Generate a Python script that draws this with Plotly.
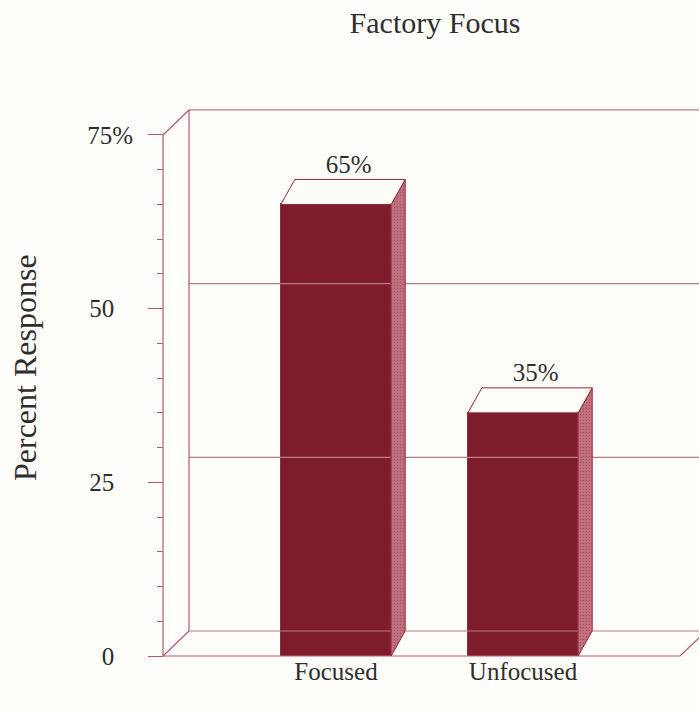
import plotly.graph_objects as go

# ---------------- data ----------------
categories = ["Focused", "Unfocused"]
values = [65, 35]
value_labels = ["65%", "35%"]
y_tick_vals = [0, 25, 50, 75]
y_tick_text = ["0", "25", "50", "75%"]
title_text = "Factory Focus"
y_title = "Percent Response"

# ---------------- style / geometry ----------------
FONT = "Liberation Serif, Times New Roman, serif"
TEXT_COLOR = "#2e2e2e"
BG = "#fffefa"
BAR_FRONT = "#7d1d2c"
BAR_SIDE = "#c07080"
BAR_TOP = "#fffdf8"
EDGE = "#8e2a3c"
FRAME = "#b05a6c"
GRID = "#b87a86"

BAR_W = 0.59
BAR_DX, BAR_DY = 0.075, 3.6      # bar depth (x units, y units)
FR_DX, FR_DY = 0.139, 3.6         # frame depth
X_FRONT = -0.925                   # front-left edge of the frame (value axis)
X_FLOOR_END = 1.84                 # front-right corner of the floor
X_FAR = 2.3                        # beyond right edge (clipped)
Y_TOP = 75

W, H = 699, 713
M_L, M_R, M_T, M_B = 120, 0, 104, 48
X_RANGE = [-1.1551, 1.9412]
Y_RANGE = [-1.2956, 79.46]

xpos = list(range(len(categories)))

fig = go.Figure()

def line(xs, ys, color=FRAME, width=1.2):
    fig.add_trace(go.Scatter(x=xs, y=ys, mode="lines", hoverinfo="skip",
                             line=dict(color=color, width=width), showlegend=False))

# frame: back wall and floor
bx = X_FRONT + FR_DX
line([bx, X_FAR], [Y_TOP + FR_DY, Y_TOP + FR_DY], GRID)
for g in y_tick_vals[1:-1]:
    line([bx, X_FAR], [g + FR_DY, g + FR_DY], GRID)
line([bx, X_FAR], [FR_DY, FR_DY], GRID)
line([bx, bx], [FR_DY, Y_TOP + FR_DY], FRAME)
line([X_FRONT, bx], [Y_TOP, Y_TOP + FR_DY], FRAME)
line([X_FRONT, bx], [0, FR_DY], FRAME)
line([X_FRONT, X_FRONT], [0, Y_TOP], FRAME)
line([X_FRONT, X_FLOOR_END, X_FLOOR_END + FR_DX], [0, 0, FR_DY], FRAME)

# bars: front faces
fig.add_trace(go.Bar(x=xpos, y=values, width=BAR_W, marker=dict(color=BAR_FRONT, line=dict(color=EDGE, width=1)),
                     showlegend=False, hoverinfo="skip"))

# bars: side & top faces
for xc, v in zip(xpos, values):
    xl, xr = xc - BAR_W / 2, xc + BAR_W / 2
    fig.add_trace(go.Scatter(
        x=[xr, xr, xr + BAR_DX, xr + BAR_DX, xr], y=[0, v, v + BAR_DY, BAR_DY, 0],
        mode="lines", fill="toself", fillcolor=BAR_SIDE,
        fillpattern=dict(shape=".", bgcolor=BAR_SIDE, fgcolor="#8f3447", size=3, solidity=0.2),
        line=dict(color=EDGE, width=1), hoverinfo="skip", showlegend=False))
    fig.add_trace(go.Scatter(
        x=[xl, xr, xr + BAR_DX, xl + BAR_DX, xl], y=[v, v, v + BAR_DY, v + BAR_DY, v],
        mode="lines", fill="toself", fillcolor=BAR_TOP,
        line=dict(color=EDGE, width=1), hoverinfo="skip", showlegend=False))

# value labels
fig.add_trace(go.Scatter(
    x=[xc + BAR_DX * 0.9 for xc in xpos], y=[v + 5.45 for v in values], mode="text",
    text=value_labels, textposition="middle center", cliponaxis=False,
    textfont=dict(family=FONT, size=25, color=TEXT_COLOR), hoverinfo="skip", showlegend=False))

fig.update_layout(
    width=W, height=H, margin=dict(l=M_L, r=M_R, t=M_T, b=M_B),
    paper_bgcolor=BG, plot_bgcolor=BG,
    font=dict(family=FONT, color=TEXT_COLOR),
    title=dict(text=title_text, x=435 / W, xanchor="center", y=1 - 22 / H, yanchor="middle",
               font=dict(family=FONT, size=30, color=TEXT_COLOR)),
    bargap=0,
    xaxis=dict(range=X_RANGE, showgrid=False, zeroline=False, showline=False,
               tickvals=xpos, ticktext=categories, ticks="",
               anchor="free", position=(0 - Y_RANGE[0]) / (Y_RANGE[1] - Y_RANGE[0]),
               ticklabelstandoff=-2,
               tickfont=dict(family=FONT, size=25, color=TEXT_COLOR)),
    yaxis=dict(range=Y_RANGE, showgrid=False, zeroline=False, showline=False,
               tickvals=y_tick_vals, ticktext=[t if t.endswith("%") else t + "\u2002\u2005" for t in y_tick_text],
               ticks="outside", ticklen=15, tickwidth=1.2, tickcolor=FRAME,
               minor=dict(ticks="outside", ticklen=6, tickwidth=1.2, tickcolor=FRAME, dtick=5, tick0=0, showgrid=False),
               anchor="free", position=(163 - M_L) / (W - M_L - M_R),
               ticklabelstandoff=10,
               tickfont=dict(family=FONT, size=25, color=TEXT_COLOR)),
    annotations=[dict(text=y_title, xref="paper", yref="paper",
                      x=(25 - M_L) / (W - M_L - M_R), y=(H - M_B - 368) / (H - M_T - M_B),
                      xanchor="center", yanchor="middle", textangle=-90, showarrow=False,
                      font=dict(family=FONT, size=32, color=TEXT_COLOR))],
)

fig.write_html("out.html")
